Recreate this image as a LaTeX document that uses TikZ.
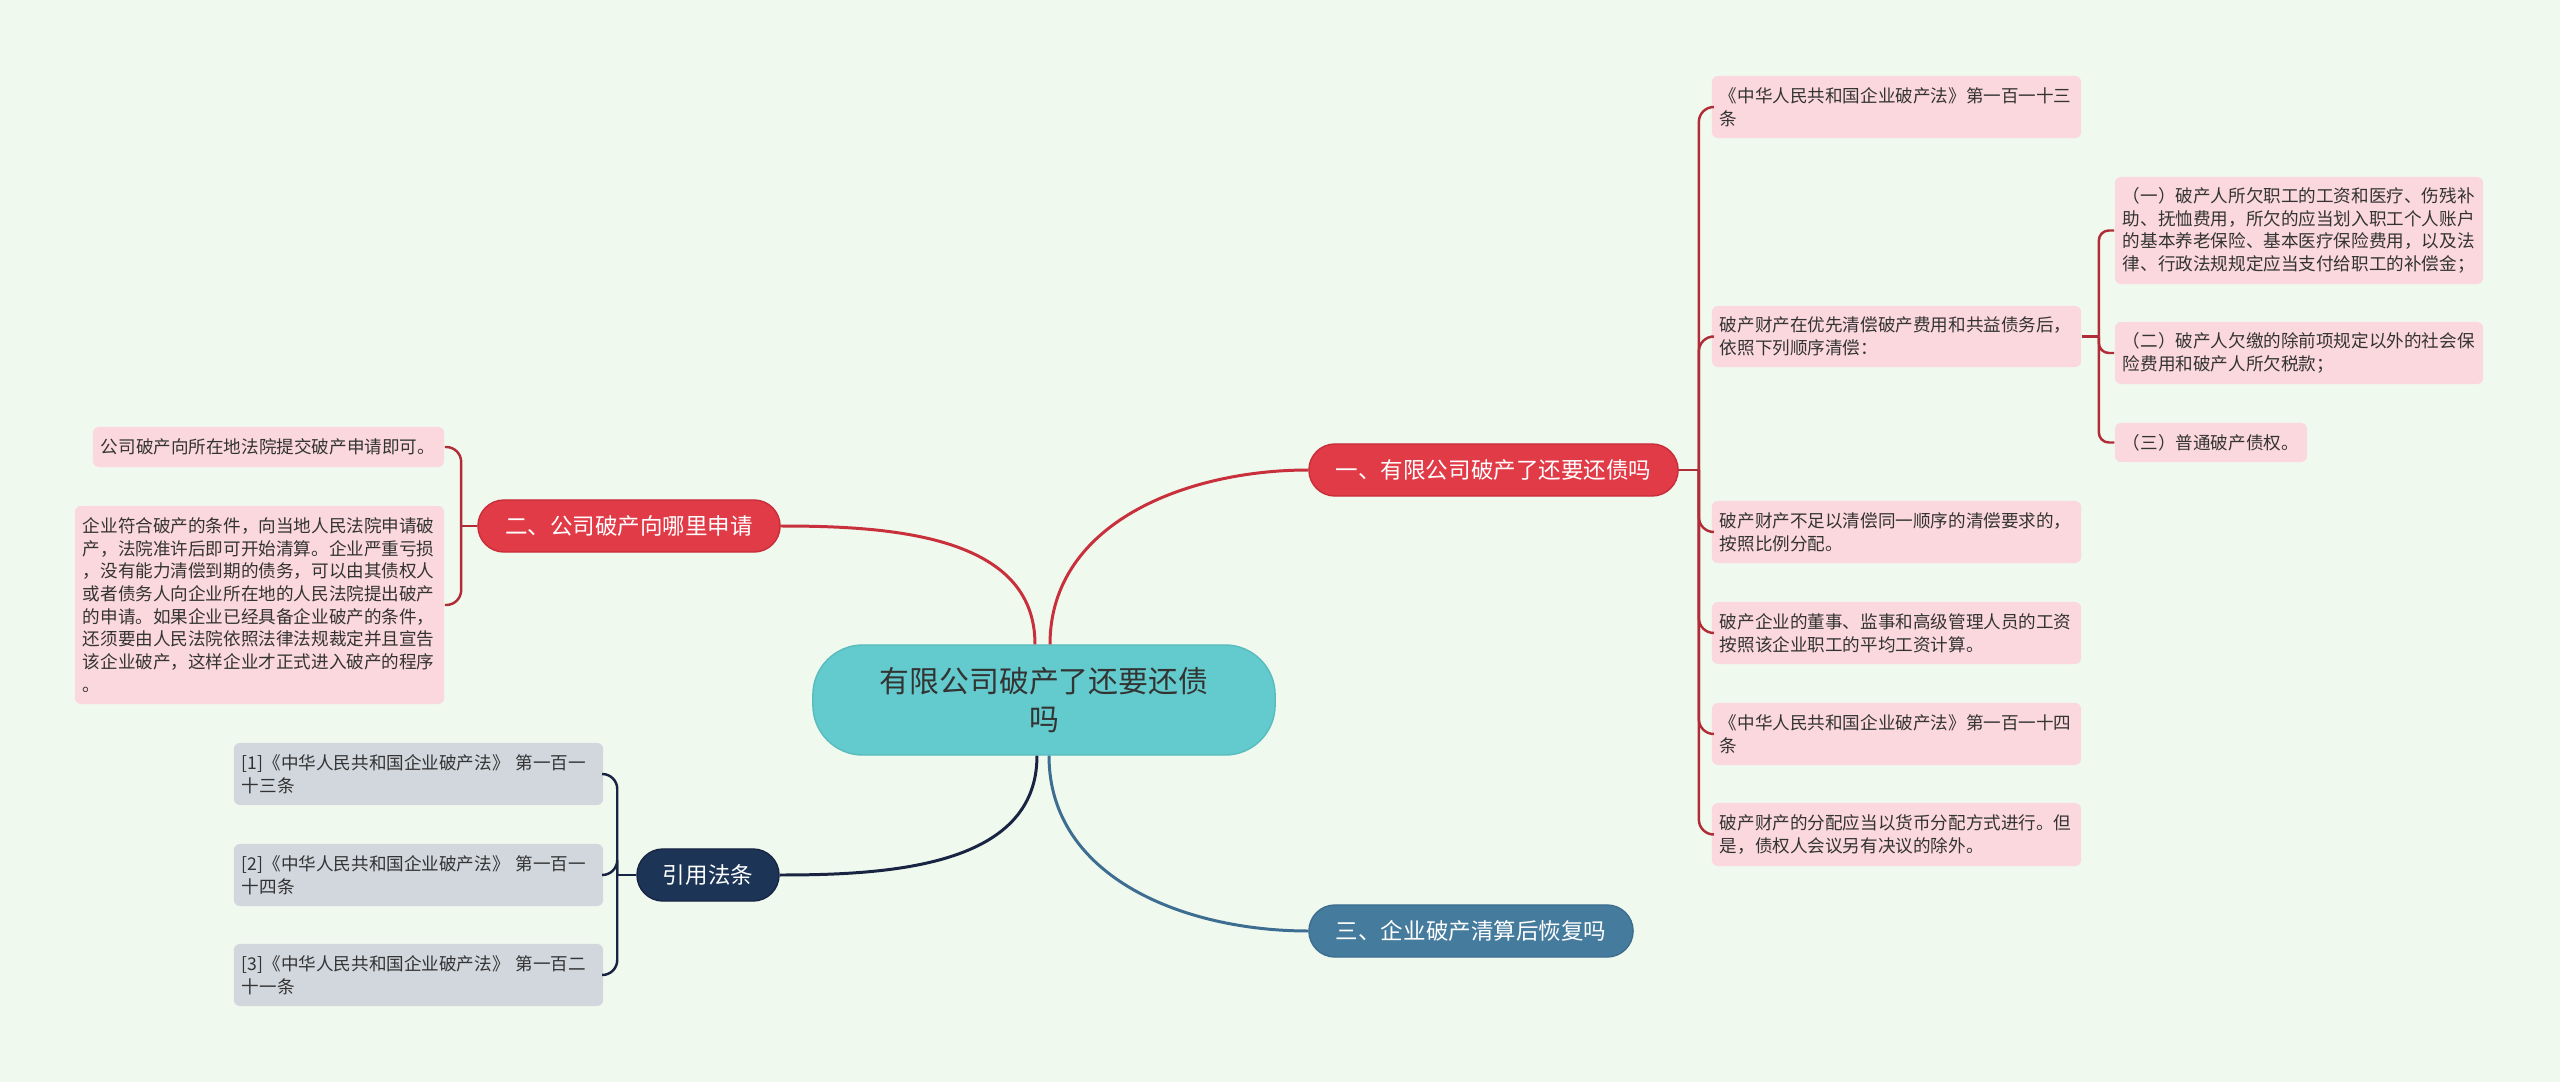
\documentclass[tikz,border=0pt]{standalone}
\usepackage{fontspec}
\setmainfont{Noto Sans CJK SC}
\definecolor{bgc}{RGB}{240,249,238}
\definecolor{tealc}{RGB}{99,203,205}
\definecolor{tealb}{RGB}{88,188,191}
\definecolor{redc}{RGB}{226,59,72}
\definecolor{redb}{RGB}{200,45,58}
\definecolor{redline}{RGB}{200,48,60}
\definecolor{leafline}{RGB}{176,45,56}
\definecolor{pinkc}{RGB}{251,216,221}
\definecolor{navyc}{RGB}{28,53,87}
\definecolor{navyline}{RGB}{24,36,66}
\definecolor{grayc}{RGB}{210,215,222}
\definecolor{bluec}{RGB}{69,123,157}
\definecolor{blueline}{RGB}{61,110,145}
\definecolor{txt}{RGB}{51,51,51}
\newcommand\leaffont{\fontsize{5pt}{6.45pt}\selectfont}
\newcommand\branchfont{\fontsize{6.4pt}{8pt}\selectfont}
\newcommand\centerfont{\fontsize{8.5pt}{10.8pt}\selectfont}
\begin{document}
\begin{tikzpicture}[x=0.01cm,y=-0.01cm,
  leaf/.style={fill=pinkc, rounded corners=0.06cm, align=left, inner xsep=0.08cm, inner ysep=0pt, font=\leaffont, text=txt},
  cite/.style={leaf, fill=grayc},
  branch/.style={rounded corners=0.26cm, inner sep=0pt, minimum height=0.52cm, font=\branchfont, text=white},
  mainline/.style={line width=0.85pt},
  leafconn/.style={line width=0.7pt, rounded corners=0.15cm},
]
\fill[bgc] (0,0) rectangle (2560,1082);
\useasboundingbox (0,0) rectangle (2560,1082);

% central
\node[fill=tealc, draw=tealb, line width=0.4pt, rounded corners=0.5cm, minimum width=4.62cm, minimum height=1.1cm, inner sep=0pt, align=center, font=\centerfont, text=txt] (c) at (1044,700) {有限公司破产了还要还债\\吗};

% branches
\node[branch, fill=redc, draw=redb, line width=0.4pt, minimum width=3.69cm] (b1) at (1493.5,470) {一、有限公司破产了还要还债吗};
\node[branch, fill=redc, draw=redb, line width=0.4pt, minimum width=3.02cm] (b2) at (629,526) {二、公司破产向哪里申请};
\node[branch, fill=bluec, draw=blueline, line width=0.4pt, minimum width=3.24cm] (b3) at (1471,931) {三、企业破产清算后恢复吗};
\node[branch, fill=navyc, draw=navyline, line width=0.4pt, minimum width=1.42cm] (b4) at (708,875) {引用法条};

% right leaves of branch 1
\node[leaf, text width=3.53cm, minimum height=0.62cm] (r1) at (1896.5,107) {《中华人民共和国企业破产法》第一百一十三\\条};
\node[leaf, text width=3.53cm, minimum height=0.61cm] (r2) at (1896.5,336.5) {破产财产在优先清偿破产费用和共益债务后，\\依照下列顺序清偿：};
\node[leaf, text width=3.53cm, minimum height=0.62cm] (r3) at (1896.5,532) {破产财产不足以清偿同一顺序的清偿要求的，\\按照比例分配。};
\node[leaf, text width=3.53cm, minimum height=0.62cm] (r4) at (1896.5,633) {破产企业的董事、监事和高级管理人员的工资\\按照该企业职工的平均工资计算。};
\node[leaf, text width=3.53cm, minimum height=0.62cm] (r5) at (1896.5,734) {《中华人民共和国企业破产法》第一百一十四\\条};
\node[leaf, text width=3.53cm, minimum height=0.63cm] (r6) at (1896.5,834.5) {破产财产的分配应当以货币分配方式进行。但\\是，债权人会议另有决议的除外。};

% sub leaves
\node[leaf, text width=3.52cm, minimum height=1.07cm] (s1) at (2299,230.5) {（一）破产人所欠职工的工资和医疗、伤残补\\助、抚恤费用，所欠的应当划入职工个人账户\\的基本养老保险、基本医疗保险费用，以及法\\律、行政法规规定应当支付给职工的补偿金；};
\node[leaf, text width=3.52cm, minimum height=0.62cm] (s2) at (2299,353) {（二）破产人欠缴的除前项规定以外的社会保\\险费用和破产人所欠税款；};
\node[leaf, text width=1.76cm, minimum height=0.39cm] (s3) at (2211,442.5) {（三）普通破产债权。};

% left leaves of branch 2
\node[leaf, text width=3.35cm, minimum height=0.40cm] (la) at (268.5,447) {公司破产向所在地法院提交破产申请即可。};
\node[leaf, text width=3.53cm, minimum height=1.98cm] (lb) at (259.5,605) {企业符合破产的条件，向当地人民法院申请破\\产，法院准许后即可开始清算。企业严重亏损\\，没有能力清偿到期的债务，可以由其债权人\\或者债务人向企业所在地的人民法院提出破产\\的申请。如果企业已经具备企业破产的条件，\\还须要由人民法院依照法律法规裁定并且宣告\\该企业破产，这样企业才正式进入破产的程序\\。};

% citation leaves
\node[cite, text width=3.53cm, minimum height=0.62cm] (c1) at (418.5,774) {[1]《中华人民共和国企业破产法》 第一百一\\十三条};
\node[cite, text width=3.53cm, minimum height=0.62cm] (c2) at (418.5,875) {[2]《中华人民共和国企业破产法》 第一百一\\十四条};
\node[cite, text width=3.53cm, minimum height=0.62cm] (c3) at (418.5,975) {[3]《中华人民共和国企业破产法》 第一百二\\十一条};

% main connectors
\draw[mainline, redline] ([xshift=0.06cm]c.north) to[out=90,in=180] (b1.west);
\draw[mainline, redline] ([xshift=-0.09cm]c.north) to[out=90,in=0] (b2.east);
\draw[mainline, navyline] ([xshift=-0.07cm]c.south) to[out=-90,in=0] (b4.east);
\draw[mainline, blueline] ([xshift=0.05cm]c.south) to[out=-90,in=180] (b3.west);

% branch 1 tree
\coordinate (t1) at ([xshift=0.2cm]b1.east);
\draw[leafconn, leafline] (b1.east) -- (t1);
\foreach \n in {r1,r2,r3,r4,r5,r6} \draw[leafconn, leafline] (t1) |- (\n.west);

% sub tree of r2
\coordinate (t5) at ([xshift=0.17cm]r2.east);
\draw[leafconn, leafline] (r2.east) -- (t5);
\foreach \n in {s1,s2,s3} \draw[leafconn, leafline, rounded corners=0.1cm] (t5) |- (\n.west);

% branch 2 tree
\coordinate (t2) at ([xshift=-0.16cm]b2.west);
\draw[leafconn, leafline] (b2.west) -- (t2);
\foreach \n in {la,lb} \draw[leafconn, leafline] (t2) |- (\n.east);

% branch 4 tree
\coordinate (t4) at ([xshift=-0.19cm]b4.west);
\draw[leafconn, navyline] (b4.west) -- (t4);
\foreach \n in {c1,c2,c3} \draw[leafconn, navyline] (t4) |- (\n.east);
\end{tikzpicture}
\end{document}
